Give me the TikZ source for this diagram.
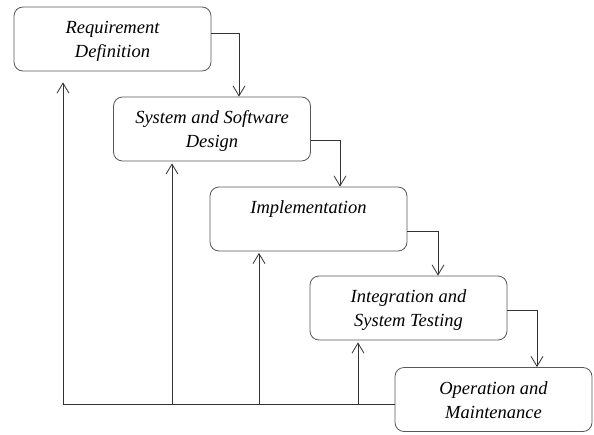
\documentclass[tikz,border=0pt]{standalone}
\usepackage{fontspec}
\setmainfont{Liberation Serif}
\usetikzlibrary{arrows.meta,calc}
% strut giving every text line the same height and depth
\newcommand{\linestrut}{\rule[-5pt]{0pt}{23pt}}
\begin{document}
\begin{tikzpicture}[x=1pt,y=-1pt,
  phase/.style={draw=black!65, line width=0.8pt, rounded corners=9pt, fill=white,
    minimum width=197pt, minimum height=64pt, inner sep=0pt, align=center,
    font=\fontsize{18.5}{24}\selectfont\itshape},
  link/.style={draw=black!80, line width=0.8pt},
  flow/.style={link, -{Straight Barb[length=10pt,width=12pt,line width=0.8pt]}}]
\useasboundingbox (0,0) rectangle (594,434);

% phases of the waterfall
\node[phase] (b1) at (112.5,39)  {\linestrut Requirement\\\linestrut Definition};
\node[phase] (b2) at (212,129)   {\linestrut System and Software\\\linestrut Design};
\node[phase] (b3) at (308.5,219) {\linestrut Implementation\\\linestrut};
\node[phase] (b4) at (408.5,308) {\linestrut Integration and\\\linestrut System Testing};
\node[phase] (b5) at (493.5,399.5) {\linestrut Operation and\\\linestrut Maintenance};

% forward flow between phases
\draw[flow] ([yshift=6pt]b1.east)   -| ([xshift=27pt]b2.north);
\draw[flow] ([yshift=-11pt]b2.east) -| ([xshift=31.5pt]b3.north);
\draw[flow] ([yshift=-12pt]b3.east) -| ([xshift=29.5pt]b4.north);
\draw[flow] ([yshift=-2pt]b4.east)  -| ([xshift=43.5pt]b5.north);

% feedback bus along the bottom
\coordinate (f1) at (63,404);
\coordinate (f2) at (172,404);
\coordinate (f3) at (259,404);
\coordinate (f4) at (358,404);
\draw[link] (b5.west |- f1) -- (f1);
\draw[flow] (f1) -- ($(f1 |- b1.south)+(0,11)$);
\draw[flow] (f2) -- ($(f2 |- b2.south)+(0,2)$);
\draw[flow] (f3) -- ($(f3 |- b3.south)+(0,1.5)$);
\draw[flow] (f4) -- ($(f4 |- b4.south)+(0,2)$);
\end{tikzpicture}
\end{document}
